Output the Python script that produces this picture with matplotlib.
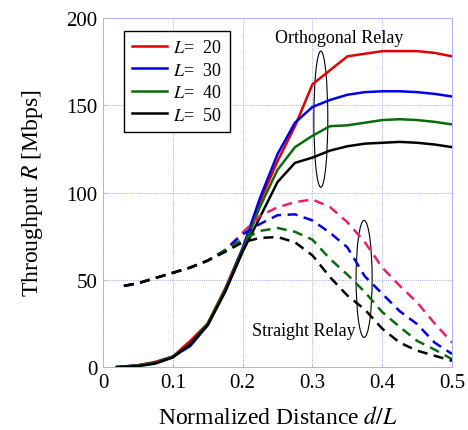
import matplotlib
matplotlib.use("Agg")
import matplotlib.pyplot as plt
from matplotlib.patches import Ellipse

plt.rcParams["font.family"] = ["Liberation Serif", "DejaVu Serif"]
plt.rcParams["mathtext.fontset"] = "stix"

# orthogonal relay (solid)
x_orth = [0.02, 0.05, 0.075, 0.1, 0.125, 0.15, 0.175, 0.2, 0.225, 0.25,
          0.275, 0.3, 0.325, 0.35, 0.375, 0.4, 0.425, 0.45, 0.475, 0.5]
orth_20 = [0, 1, 3, 6, 15, 25, 45, 68, 95, 118, 138, 162, 170, 178, 179.5, 181, 181, 181, 180, 178]
orth_30 = [0, 1, 2.5, 6, 12, 24, 44, 68, 97, 122, 140, 149, 153, 156, 157.5, 158, 158, 157.5, 156.5, 155]
orth_40 = [0, 1, 2.5, 6, 13, 25, 44, 67, 92, 113, 126, 132.5, 138, 138.5, 140, 141.5, 142, 141.5, 140.5, 139]
orth_50 = [0, 0.5, 2, 5.5, 13, 24, 43, 66, 86, 106, 117, 120, 124, 126.5, 128, 128.5, 129, 128.5, 127.5, 126]

# straight relay (dashed)
x_str = [0.03, 0.05, 0.075, 0.1, 0.125, 0.15, 0.175, 0.2, 0.225, 0.25,
         0.275, 0.3, 0.325, 0.35, 0.375, 0.4, 0.425, 0.45, 0.475, 0.5]
str_20 = [46.5, 48, 51, 54, 57, 61, 67, 77, 86.7, 91.5, 94.5, 96, 91.7, 83, 71.6, 57, 46.6, 37, 25, 14]
str_30 = [46.5, 48, 51, 54, 57, 61, 67, 76, 82, 87, 87.5, 84, 77, 68.6, 52, 42, 32, 24.6, 14, 7.5]
str_40 = [46.5, 48, 51, 54, 57, 61, 67, 73, 78, 79.7, 77.5, 73, 62, 53, 43, 31.5, 23, 15, 10, 4.5]
str_50 = [46.5, 48, 51, 54, 57, 61, 66, 71.5, 74, 74.5, 71.5, 64, 51.6, 41, 33, 22, 14, 9.4, 6.5, 3.6]

labels = ["20", "30", "40", "50"]
solid_colors = ["#e00000", "#0000e6", "#0a6b0a", "#000000"]
dash_colors = ["#e8206a", "#0000e6", "#0a6b0a", "#000000"]

fig = plt.figure(figsize=(4.68, 4.31), dpi=100)
ax = fig.add_axes([0.220, 0.146, 0.746, 0.810])

orth = [orth_20, orth_30, orth_40, orth_50]
strt = [str_20, str_30, str_40, str_50]
for y, c, lab in zip(orth, solid_colors, labels):
    ax.plot(x_orth, y, color=c, lw=1.8, label=r"$L$=  " + lab)
for y, c in zip(strt, dash_colors):
    ax.plot(x_str, y, color=c, lw=1.8, dashes=(4, 2.6))

# annotation ellipses
ax.add_patch(Ellipse((0.312, 142), 0.02, 78, fill=False, color="black", lw=0.8))
ax.add_patch(Ellipse((0.374, 50.5), 0.023, 67, fill=False, color="black", lw=0.8))
ax.text(0.338, 189, "Orthogonal Relay", ha="center", va="center", fontsize=13)
ax.text(0.288, 21, "Straight Relay", ha="center", va="center", fontsize=13)

ax.set_xlim(0, 0.5)
ax.set_ylim(0, 200)
ax.set_xticks([0, 0.1, 0.2, 0.3, 0.4, 0.5])
ax.set_xticklabels(["0", "0.1", "0.2", "0.3", "0.4", "0.5"])
ax.set_yticks([0, 50, 100, 150, 200])
ax.grid(True, color="#a8a8f4", linestyle=(0, (1, 1.2)), lw=0.7)
for s in ax.spines.values():
    s.set_color("#b0b0f6")
    s.set_linestyle((0, (1, 0.8)))
    s.set_linewidth(0.7)
ax.tick_params(direction="in", color="#b0b0f6", length=2, labelsize=15, pad=4)

ax.set_xlabel(r"Normalized Distance $d/L$", fontsize=17, labelpad=10)
ax.set_ylabel(r"Throughput $R$ [Mbps]", fontsize=17, labelpad=15)

leg = ax.legend(loc="upper left", bbox_to_anchor=(0.035, 0.988), fontsize=13,
                fancybox=False, framealpha=1, edgecolor="black",
                handlelength=1.9, handletextpad=0.35, borderpad=0.45,
                labelspacing=0.3)
leg.get_frame().set_linewidth(1.0)

fig.savefig("out.png", dpi=100)
